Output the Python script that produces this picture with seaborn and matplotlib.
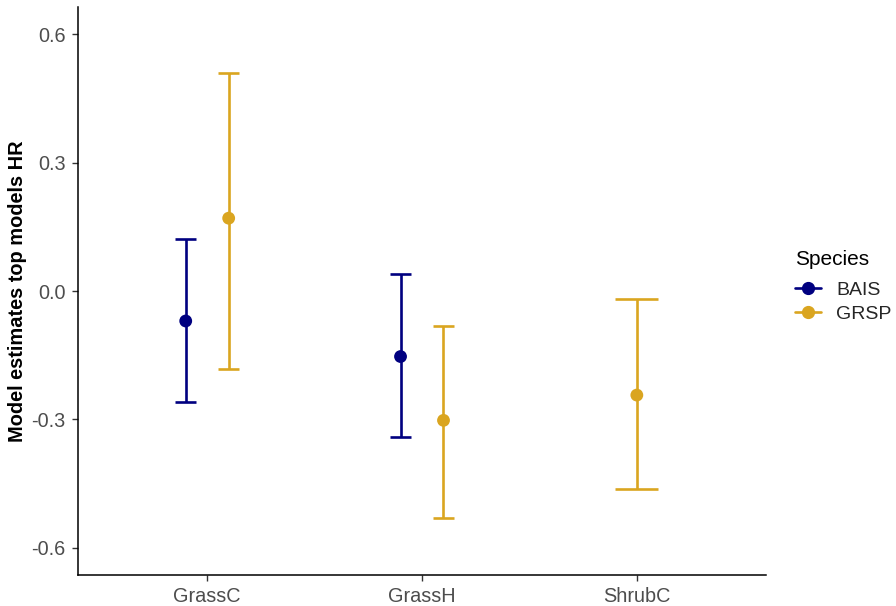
import matplotlib
matplotlib.use("Agg")
import matplotlib.pyplot as plt
from matplotlib.lines import Line2D
import numpy as np
import pandas as pd
import seaborn as sns

# Model estimates with 95% confidence limits per habitat variable and species
habitat = ["GrassC", "GrassC", "GrassH", "GrassH", "ShrubC"]
species = ["BAIS", "GRSP", "BAIS", "GRSP", "GRSP"]
estimate = [-0.070, 0.170, -0.153, -0.302, -0.243]
lower = [-0.259, -0.181, -0.340, -0.530, -0.462]
upper = [0.121, 0.510, 0.040, -0.082, -0.019]

categories = ["GrassC", "GrassH", "ShrubC"]
species_order = ["BAIS", "GRSP"]
palette = {"BAIS": "#000080", "GRSP": "#DAA520"}

df = pd.DataFrame({"habitat": habitat, "species": species,
                   "estimate": estimate, "lower": lower, "upper": upper})

# dodge positions: the groups present at a category share a slot of width 0.4
dodge_width = 0.4
pos = []
cap_half = []
for _, row in df.iterrows():
    base = categories.index(row["habitat"])
    present = [s for s in species_order
               if s in set(df.loc[df.habitat == row["habitat"], "species"])]
    slot = dodge_width / len(present)
    k = present.index(row["species"])
    pos.append(base - dodge_width / 2 + slot * (k + 0.5))
    cap_half.append(slot / 4)
df["x"] = pos
df["cap"] = cap_half

sns.set_theme(style="white")
plt.rcParams["font.family"] = ["Liberation Sans", "DejaVu Sans"]

fig = plt.figure(figsize=(8.96, 6.06), dpi=100)
ax = fig.add_axes([0.0874, 0.0512, 0.7672, 0.9372])

lw = 1.9
for _, row in df.iterrows():
    c = palette[row["species"]]
    ax.vlines(row["x"], row["lower"], row["upper"], color=c, lw=lw, zorder=2)
    ax.hlines([row["lower"], row["upper"]], row["x"] - row["cap"], row["x"] + row["cap"],
              color=c, lw=lw, zorder=2)

sns.scatterplot(data=df, x="x", y="estimate", hue="species", hue_order=species_order,
                palette=palette, s=85, edgecolor="none", legend=False, ax=ax, zorder=3)

ax.set_xlim(-0.6, 2.6)
ax.set_ylim(-0.663, 0.663)
ax.set_xticks(range(len(categories)))
ax.set_xticklabels(categories)
ax.set_yticks([-0.6, -0.3, 0.0, 0.3, 0.6])
ax.set_yticklabels(["-0.6", "-0.3", "0.0", "0.3", "0.6"])
ax.set_xlabel("")
ax.set_ylabel("Model estimates top models HR", fontsize=14.4, fontweight="bold",
              color="black", labelpad=3)

for side in ["top", "right"]:
    ax.spines[side].set_visible(False)
for side in ["left", "bottom"]:
    ax.spines[side].set_color("black")
    ax.spines[side].set_linewidth(1.1)

ax.tick_params(axis="both", which="major", direction="out", length=4, width=1,
               color="#333333", labelsize=14.3, labelcolor="#4D4D4D", pad=5,
               left=True, bottom=True)

handles = [Line2D([0], [0], color=palette[s], lw=lw, marker="o", markersize=8.5)
           for s in species_order]
leg = fig.legend(handles, species_order, title="Species", loc="upper left",
                 bbox_to_anchor=(0.879, 0.6), frameon=False, fontsize=14,
                 title_fontsize=15, handlelength=1.3, handletextpad=0.8,
                 labelspacing=0.3, alignment="left", borderaxespad=0)
leg.get_title().set_color("black")
leg._legend_box.sep = 9

fig.savefig("out.png", dpi=100, facecolor="white")
